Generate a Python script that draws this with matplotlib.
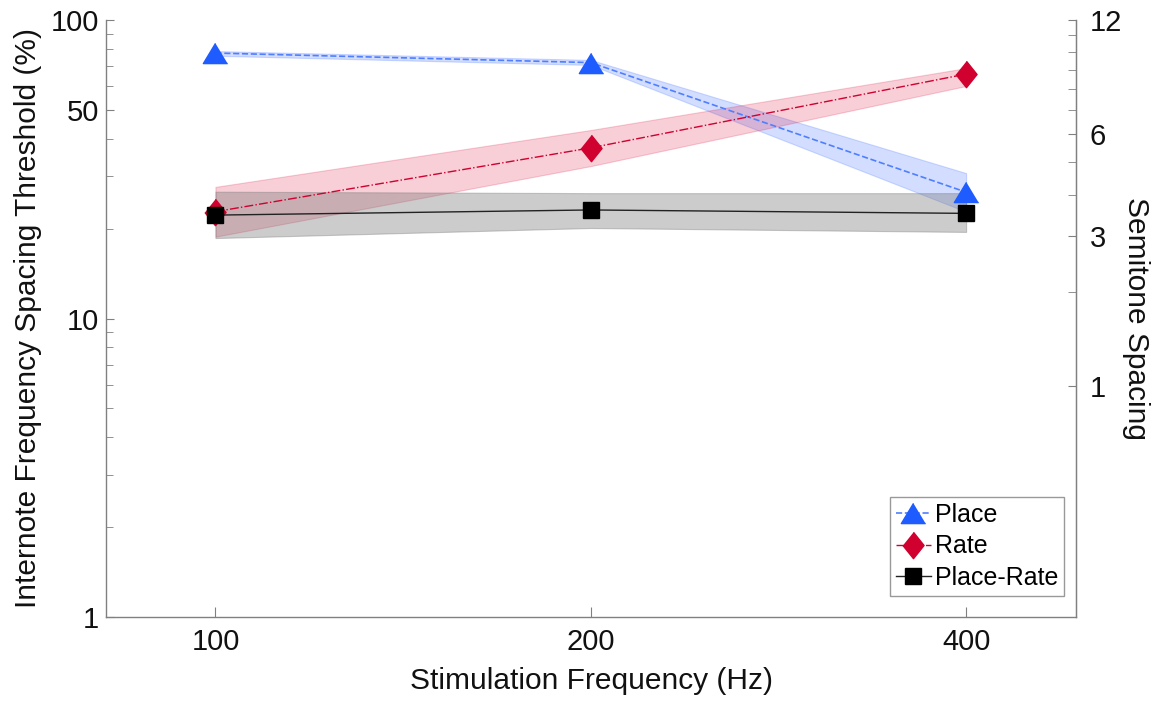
import numpy as np
import matplotlib.pyplot as plt
from matplotlib.ticker import NullLocator, FixedLocator, NullFormatter

# data (percent)
freqs = [100, 200, 400]
place = [77.5, 72.0, 26.5]
place_lo = [75.9, 70.7, 22.8]
place_hi = [78.7, 73.5, 30.7]
rate = [22.8, 37.3, 65.9]
rate_lo = [18.8, 32.4, 60.1]
rate_hi = [27.6, 42.8, 69.0]
place_rate = [22.2, 23.1, 22.5]
place_rate_lo = [18.6, 20.1, 19.5]
place_rate_hi = [26.6, 26.3, 26.3]

semitone_major = [1, 3, 6, 12]
semitone_minor = [2, 4, 5, 7, 8, 9, 10, 11]

BLUE = "#1f5cff"
BLUE_LINE = "#4f7fff"
RED = "#d0002f"
SPINE = "#808080"

plt.rcParams["font.family"] = ["Liberation Sans", "DejaVu Sans"]


def semitone_to_pct(s):
    return (2 ** (np.asarray(s) / 12.0) - 1) * 100


tri = [(0, 0.83), (-1, -0.83), (1, -0.83)]
dia = [(0, 1), (0.8, 0), (0, -1), (-0.8, 0)]

fig = plt.figure(figsize=(11.68, 7.02), dpi=100)
ax = fig.add_axes([106 / 1168, 85 / 702, 970 / 1168, 597 / 702])

# shaded bands
ax.fill_between(freqs, place_lo, place_hi, color="#3366ff", alpha=0.22, lw=0.8,
                edgecolor="#3366ff")
ax.fill_between(freqs, rate_lo, rate_hi, color="#e0204a", alpha=0.22, lw=0.8,
                edgecolor="#e0204a")
ax.fill_between(freqs, place_rate_lo, place_rate_hi, color="#7a7a7a", alpha=0.38,
                lw=0.8, edgecolor="#7a7a7a")

ax.plot(freqs, place, "--", color=BLUE_LINE, lw=1.2, marker=tri, ms=17.5,
        mfc=BLUE, mec=BLUE, label="Place", zorder=3)
ax.plot(freqs, rate, "-.", color=RED, lw=1.0, marker=dia, ms=19,
        mfc=RED, mec=RED, label="Rate", zorder=3)
ax.plot(freqs, place_rate, "-", color="#222222", lw=1.0, marker="s", ms=12,
        mfc="black", mec="black", label="Place-Rate", zorder=4)

ax.set_xscale("log", base=2)
ax.set_yscale("log")
ax.set_xlim(81.7, 490)
ax.set_ylim(1, 100)
ax.set_xticks(freqs)
ax.set_xticklabels([str(f) for f in freqs])
ax.xaxis.set_minor_locator(NullLocator())
ax.set_yticks([1, 10, 50, 100])
ax.set_yticklabels(["1", "10", "50", "100"])

ax.spines["top"].set_visible(False)
for s in ["left", "bottom", "right"]:
    ax.spines[s].set_color(SPINE)
    ax.spines[s].set_linewidth(1.0)

ax.tick_params(which="both", direction="in", color=SPINE, labelsize=21,
               labelcolor="#111111")
ax.tick_params(axis="y", which="major", length=6)
ax.tick_params(axis="y", which="minor", length=5)
ax.tick_params(axis="x", which="major", length=7, pad=8)
ax.tick_params(axis="y", pad=5)

ax.set_xlabel("Stimulation Frequency (Hz)", fontsize=21.5, color="#111111", labelpad=8)
ax.set_ylabel("Internote Frequency Spacing Threshold (%)", fontsize=21.5,
              color="#111111", labelpad=6)

# right axis in semitones
ax2 = ax.twinx()
ax2.set_yscale("log")
ax2.set_ylim(1, 100)
ax2.yaxis.set_major_locator(FixedLocator(semitone_to_pct(semitone_major)))
ax2.set_yticklabels([str(s) for s in semitone_major])
ax2.yaxis.set_minor_locator(FixedLocator(semitone_to_pct(semitone_minor)))
ax2.yaxis.set_minor_formatter(NullFormatter())
for s in ["top", "left", "bottom"]:
    ax2.spines[s].set_visible(False)
ax2.spines["right"].set_color(SPINE)
ax2.tick_params(which="both", direction="in", color=SPINE, labelsize=21,
                labelcolor="#111111", length=6, pad=10)
ax2.set_ylabel("Semitone Spacing", fontsize=21.5, rotation=270, labelpad=20,
               color="#111111")

leg = ax.legend(loc="lower right", bbox_to_anchor=(0.988, 0.035), fontsize=18,
                frameon=True, fancybox=False, handlelength=1.4, handletextpad=0.15,
                labelspacing=0.3, borderpad=0.25, borderaxespad=0)
leg.get_frame().set_edgecolor(SPINE)
leg.get_frame().set_linewidth(1.0)
leg.set_zorder(10)

fig.savefig("out.png", dpi=100)
